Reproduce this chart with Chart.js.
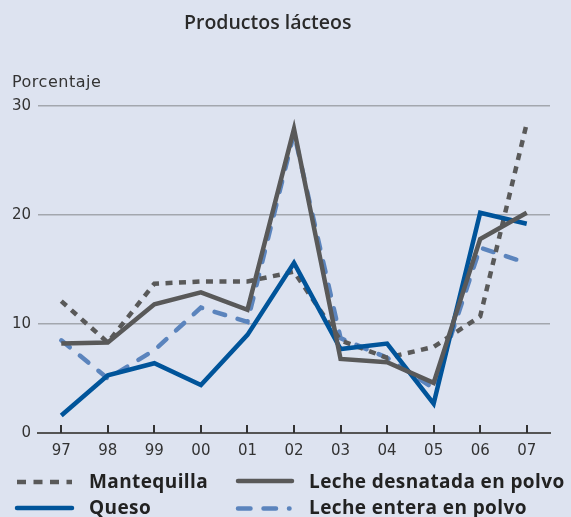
<!DOCTYPE html>
<html>
<head>
<meta charset="utf-8">
<script src="https://cdn.jsdelivr.net/npm/chart.js@4"></script>
<style>
  body { margin: 0; background: #dde3f0; font-family: "Open Sans", sans-serif; }
  #wrap { position: relative; width: 571px; height: 517px; background: #dde3f0; overflow: hidden; }
  #box { position: absolute; left: 0; top: 0; width: 571px; height: 517px; }
  #title { position: absolute; left: 184px; top: 8px; font-size: 19.5px; font-weight: 600; color: #2a2a2a; white-space: nowrap; }
  #ylab { position: absolute; left: 12px; top: 72px; font-family: "DejaVu Sans", sans-serif; font-size: 16px; letter-spacing: 0.5px; color: #333; }
  .leg { position: absolute; font-size: 19px; font-weight: bold; letter-spacing: 0.4px; color: #222; white-space: nowrap; }
</style>
</head>
<body>
<div id="wrap">
  <div id="box"><canvas id="c"></canvas></div>
  <div id="title">Productos lácteos</div>
  <div id="ylab">Porcentaje</div>
  <div class="leg" style="left:89px; top:468px;">Mantequilla</div>
  <div class="leg" style="left:309px; top:468px;">Leche desnatada en polvo</div>
  <div class="leg" style="left:89px; top:494px;">Queso</div>
  <div class="leg" style="left:309px; top:494px;">Leche entera en polvo</div>
  <svg style="position:absolute; left:0; top:460px;" width="571" height="57">
    <line x1="17" y1="22" x2="72" y2="22" stroke="#595959" stroke-width="4.5" stroke-dasharray="9,7.5"/>
    <line x1="238" y1="21" x2="292" y2="21" stroke="#595959" stroke-width="4.5" stroke-linecap="round"/>
    <line x1="17" y1="48" x2="72" y2="48" stroke="#00549a" stroke-width="4.5" stroke-linecap="round"/>
    <line x1="238" y1="48.5" x2="290" y2="48.5" stroke="#5b84bd" stroke-width="4.5" stroke-linecap="round" stroke-dasharray="12.5,13,12.5,13,0.5,20"/>
  </svg>
</div>
<script>
const years = ['97', '98', '99', '00', '01', '02', '03', '04', '05', '06', '07'];
const mantequilla = [12.1, 8.3, 13.7, 13.9, 13.9, 14.8, 8.5, 6.9, 7.9, 10.7, 28.4];
const lecheDesnatada = [8.2, 8.3, 11.8, 12.9, 11.3, 27.9, 6.8, 6.5, 4.6, 17.8, 20.2];
const queso = [1.6, 5.3, 6.4, 4.4, 9.0, 15.6, 7.7, 8.2, 2.7, 20.2, 19.2];
const lecheEntera = [8.5, 5.0, 7.6, 11.5, 10.2, 27.5, 8.7, 6.9, 4.1, 17.0, 15.6];
const yTicks = [0, 10, 20, 30];

// small upward tick marks on the x axis at each category
const upTicks = {
    id: 'upTicks',
    afterDraw(chart) {
        const x = chart.scales.x;
        const y0 = chart.scales.y.getPixelForValue(0);
        const g = chart.ctx;
        g.save();
        g.strokeStyle = '#333';
        g.lineWidth = 2;
        years.forEach((yr, i) => {
            const px = Math.round(x.getPixelForValue(i));
            g.beginPath();
            g.moveTo(px, y0);
            g.lineTo(px, y0 - 8);
            g.stroke();
        });
        g.restore();
    }
};

const tickFont = { family: 'DejaVu Sans', size: 15 };

const ctx = document.getElementById('c').getContext('2d');
new Chart(ctx, {
    type: 'line',
    data: {
        labels: years,
        datasets: [{
            label: 'Mantequilla',
            data: mantequilla,
            borderColor: '#595959',
            borderWidth: 4.5,
            borderDash: [7, 6.5],
            order: 2
        }, {
            label: 'Leche desnatada en polvo',
            data: lecheDesnatada,
            borderColor: '#595959',
            borderWidth: 4.5,
            order: 0
        }, {
            label: 'Queso',
            data: queso,
            borderColor: '#00549a',
            borderWidth: 4.5,
            order: 1
        }, {
            label: 'Leche entera en polvo',
            data: lecheEntera,
            borderColor: '#5b84bd',
            borderWidth: 4.5,
            borderDash: [11, 13],
            borderCapStyle: 'round',
            order: 3
        }]
    },
    options: {
        animation: false,
        responsive: true,
        maintainAspectRatio: false,
        elements: { point: { radius: 0 }, line: { tension: 0, borderJoinStyle: 'miter' } },
        layout: { padding: { top: 106, bottom: 50, right: 21, left: 0 } },
        plugins: { legend: { display: false }, tooltip: { enabled: false } },
        scales: {
            x: {
                offset: true,
                afterFit(s) { s.height = 34; },
                grid: { display: true, drawOnChartArea: false, drawTicks: false, offset: false },
                border: { display: true, color: '#555', width: 2 },
                ticks: { padding: 9, color: '#333', font: tickFont }
            },
            y: {
                min: 0,
                max: 30,
                afterFit(s) { s.width = 38; },
                afterBuildTicks(s) { s.ticks = yTicks.map(v => ({ value: v })); },
                grid: { color: '#a3a7ae', lineWidth: 1.5, drawTicks: false },
                border: { display: false },
                ticks: { padding: 7, color: '#333', font: tickFont }
            }
        }
    },
    plugins: [upTicks]
});
</script>
</body>
</html>
